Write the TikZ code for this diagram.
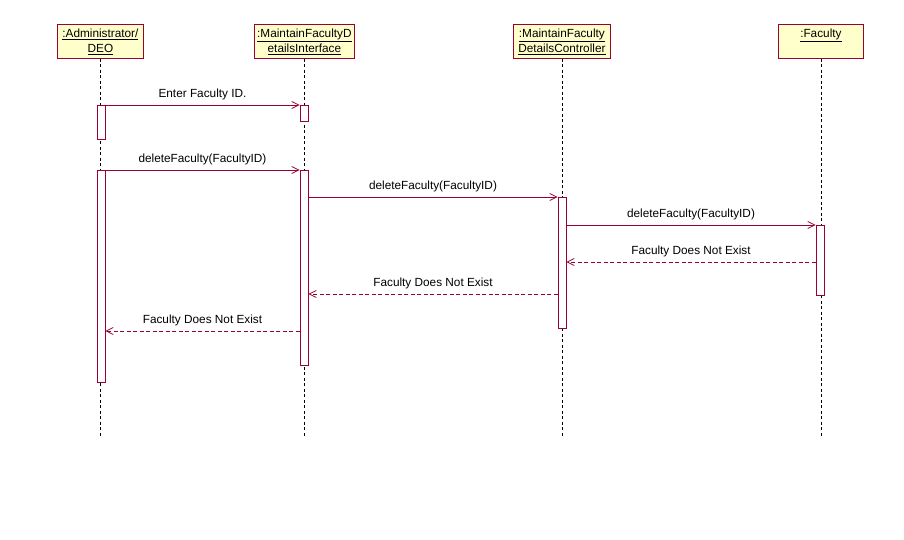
\documentclass[tikz,border=0pt]{standalone}
\usepackage{fontspec}
\setmainfont{Liberation Sans}
\usetikzlibrary{arrows.meta}
\definecolor{umlred}{RGB}{153,0,51}
\definecolor{umlfill}{RGB}{255,255,204}
\tikzset{
  objbox/.style={draw=umlred, fill=umlfill, line width=0.8pt, rectangle, minimum height=34pt, inner sep=0pt, anchor=north west},
  objtext/.style={anchor=north, align=center, inner sep=0pt, font=\fontsize{11.8}{15}\selectfont},
  lifeline/.style={draw=black, line width=0.8pt, dash pattern=on 3pt off 2.5pt},
  act/.style={draw=umlred, fill=white, line width=0.8pt, rectangle, minimum width=8pt, inner sep=0pt, anchor=north},
  msg/.style={draw=umlred, line width=0.8pt, -{Straight Barb[length=7pt,width=7pt]}},
  ret/.style={draw=umlred, line width=0.8pt, dash pattern=on 4pt off 2.5pt, -{Straight Barb[length=7pt,width=7pt]}},
  mlabel/.style={midway, anchor=base, yshift=7.5pt, inner sep=0pt, font=\fontsize{11.8}{13}\selectfont}
}
\begin{document}
\begin{tikzpicture}[x=1pt,y=-1pt]
\useasboundingbox (0,0) rectangle (904,539);
% object boxes
\node[objbox, minimum width=86pt] (adm) at (57,24) {};
\node[objbox, minimum width=100pt] (ifc) at (254,24) {};
\node[objbox, minimum width=97pt] (ctl) at (513,24) {};
\node[objbox, minimum width=85pt] (fac) at (778,24) {};
\node[objtext] (admt) at ([yshift=-4.5pt]adm.north) {\underline{:Administrator/}\\\underline{DEO}};
\node[objtext] (ifct) at ([yshift=-4.5pt]ifc.north) {\underline{:MaintainFacultyD}\\\underline{etailsInterface}};
\node[objtext] (ctlt) at ([yshift=-4.5pt]ctl.north) {\underline{:MaintainFaculty}\\\underline{DetailsController}};
\node[objtext] (fact) at ([yshift=-4.5pt]fac.north) {\underline{:Faculty}};
% lifelines
\coordinate (bot) at (0,438);
\draw[lifeline] (adm.south) -- (adm.south |- bot);
\draw[lifeline] (ifc.south) -- (ifc.south |- bot);
\draw[lifeline] (ctl.south) -- (ctl.south |- bot);
\draw[lifeline] (fac.south) -- (fac.south |- bot);
% activations
\node[act, minimum height=34pt] (a1) at (101,105) {};
\node[act, minimum height=16pt] (i1) at (304,105) {};
\node[act, minimum height=212pt] (a2) at (101,170) {};
\node[act, minimum height=195pt] (i2) at (304,170) {};
\node[act, minimum height=131pt] (c1) at (562,197) {};
\node[act, minimum height=70pt] (f1) at (820,225) {};
% messages
\draw[msg] (a1.north east) -- node[mlabel] {Enter Faculty ID.} (i1.north west);
\draw[msg] (a2.north east) -- node[mlabel] {deleteFaculty(FacultyID)} (i2.north west);
\draw[msg] (i2.east |- c1.north) -- node[mlabel] {deleteFaculty(FacultyID)} (c1.north west);
\draw[msg] (c1.east |- f1.north) -- node[mlabel] {deleteFaculty(FacultyID)} (f1.north west);
\coordinate (r1) at (0,262);
\coordinate (r2) at (0,294);
\coordinate (r3) at (0,331);
\draw[ret] (f1.west |- r1) -- node[mlabel] {Faculty Does Not Exist} (c1.east |- r1);
\draw[ret] (c1.west |- r2) -- node[mlabel] {Faculty Does Not Exist} (i2.east |- r2);
\draw[ret] (i2.west |- r3) -- node[mlabel] {Faculty Does Not Exist} (a2.east |- r3);
\end{tikzpicture}
\end{document}
